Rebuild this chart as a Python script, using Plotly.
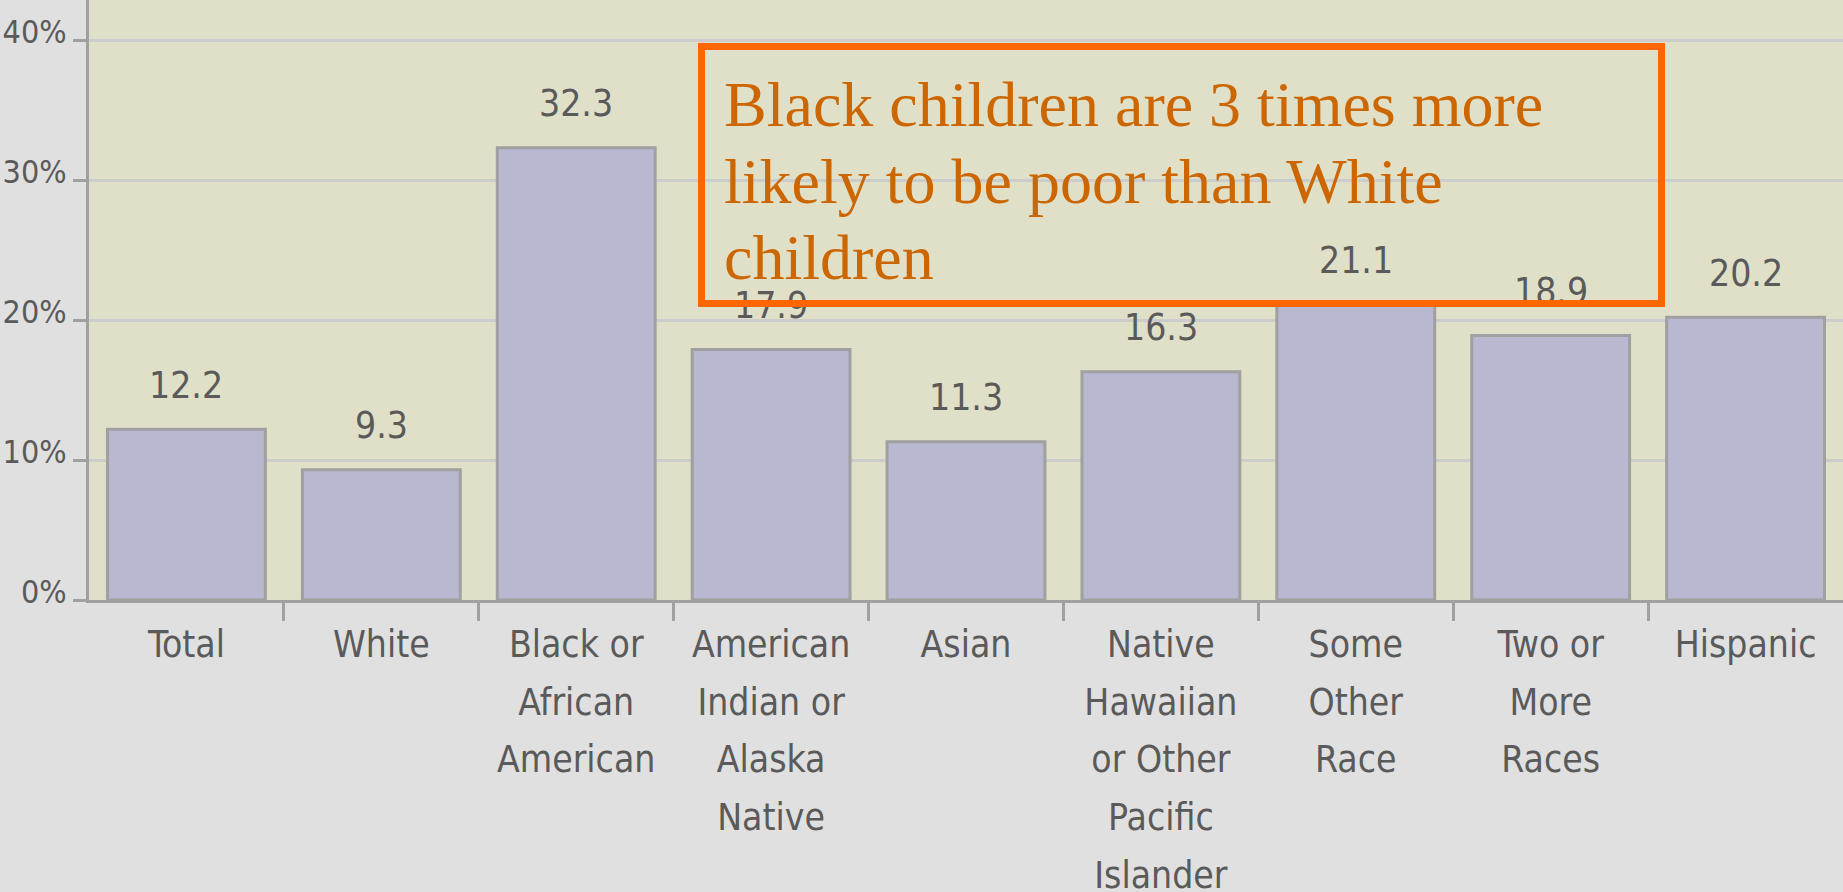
import plotly.graph_objects as go

categories = [
    "Total",
    "White",
    "Black or<br>African<br>American",
    "American<br>Indian or<br>Alaska<br>Native",
    "Asian",
    "Native<br>Hawaiian<br>or Other<br>Pacific<br>Islander",
    "Some<br>Other<br>Race",
    "Two or<br>More<br>Races",
    "Hispanic",
]
poverty_rates = [12.2, 9.3, 32.3, 17.9, 11.3, 16.3, 21.1, 18.9, 20.2]
y_tick_values = [0, 10, 20, 30, 40]
y_tick_labels = ["0%", "10%", "20%", "30%", "40%"]
callout_lines = [
    "Black children are 3 times more",
    "likely to be poor than White",
    "children",
]

LABEL_FONT = "DejaVu Sans Condensed, DejaVu Sans, sans-serif"
TEXT_GRAY = "#5a5a5a"
AXIS_GRAY = "#a0a0a0"


def sized(text, px):
    return "<br>".join(f"<span style='font-size:{px}px'>{part}</span>" for part in text.split("<br>"))


positions = list(range(len(categories)))
boundaries = [p + 0.5 for p in positions[:-1]]

fig = go.Figure()
fig.add_trace(go.Bar(
    x=positions,
    y=poverty_rates,
    customdata=[c.replace("<br>", " ") for c in categories],
    marker=dict(color="#b8b8d0", line=dict(color=AXIS_GRAY, width=3)),
    hovertemplate="%{customdata}: %{y}%<extra></extra>",
))

annotations = []
for pos, val in zip(positions, poverty_rates):
    annotations.append(dict(
        x=pos, y=val, xref="x", yref="y",
        text=f"{val:.1f}", showarrow=False,
        yanchor="middle", yshift=44,
        font=dict(family=LABEL_FONT, size=37, color=TEXT_GRAY),
    ))

callout_text = sized("<br>".join(callout_lines), 64)
annotations.append(dict(
    xref="paper", yref="paper",
    x=(698 - 89) / 1754, y=1 - 43 / 600,
    xanchor="left", yanchor="top",
    width=915, height=212,
    align="left", valign="top",
    text=callout_text, showarrow=False,
    bordercolor="#ff6600", borderwidth=7, borderpad=19,
    font=dict(family="Liberation Serif, Times New Roman, serif", size=59, color="#cc6600"),
))

fig.update_layout(
    width=1843, height=892,
    margin=dict(l=89, r=0, t=0, b=292),
    paper_bgcolor="#e0e0e0",
    plot_bgcolor="#e0e0c8",
    bargap=0.19,
    showlegend=False,
    annotations=annotations,
    xaxis=dict(
        type="linear",
        range=[-0.5, len(categories) - 0.5],
        tickmode="array",
        tickvals=positions,
        ticktext=[sized(c, 37) for c in categories],
        ticks="",
        minor=dict(
            tickmode="array", tickvals=boundaries,
            ticks="outside", ticklen=18, tickwidth=3, tickcolor=AXIS_GRAY,
            showgrid=False,
        ),
        showline=True, linecolor=AXIS_GRAY, linewidth=3,
        showgrid=False, zeroline=False,
        tickangle=0,
        automargin=False,
        tickfont=dict(family=LABEL_FONT, size=44.6, color=TEXT_GRAY),
    ),
    yaxis=dict(
        range=[0, 600 / 14],
        tickvals=y_tick_values, ticktext=y_tick_labels,
        ticks="outside", ticklen=13, tickwidth=3, tickcolor=AXIS_GRAY,
        showline=True, linecolor=AXIS_GRAY, linewidth=3,
        showgrid=True, gridcolor="#cccccc", gridwidth=3,
        zeroline=False,
        automargin=False,
        ticklabelshift=-8,
        tickfont=dict(family=LABEL_FONT, size=32, color=TEXT_GRAY),
    ),
)

fig.write_html("out.html")
